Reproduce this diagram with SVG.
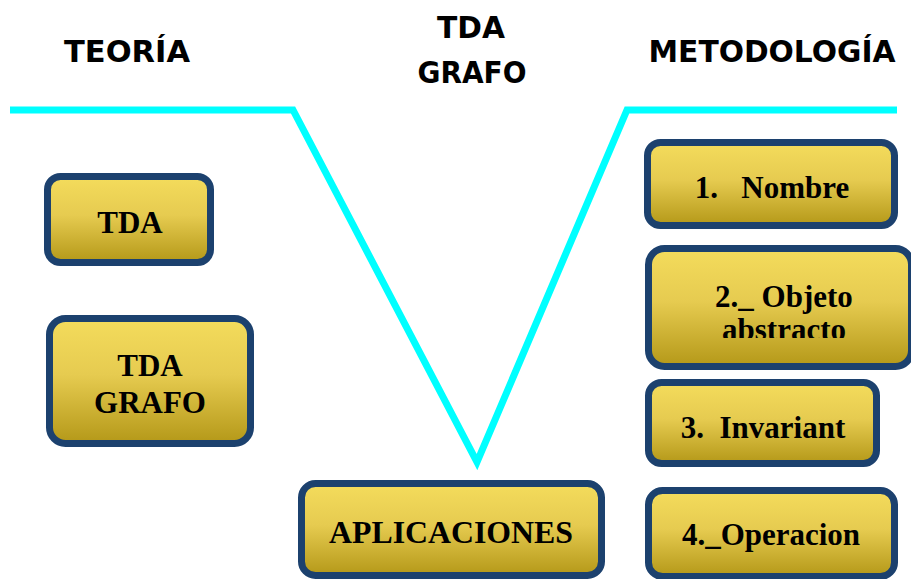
<svg xmlns="http://www.w3.org/2000/svg" width="911" height="579" viewBox="0 0 911 579">
<defs>
<linearGradient id="gold" x1="0" y1="0" x2="0" y2="1">
<stop offset="0" stop-color="#F4DC5C"/>
<stop offset="0.45" stop-color="#E6CB50"/>
<stop offset="1" stop-color="#B49818"/>
</linearGradient>
<clipPath id="clipObj"><rect x="640" y="240" width="280" height="98"/></clipPath>
</defs>
<style>
.box{fill:url(#gold);stroke:#1C416E;stroke-width:7}
.bt{font-family:"Liberation Serif","Times New Roman",serif;font-weight:bold;font-size:31px;fill:#000;text-anchor:middle;white-space:pre}
.hd{font-family:"DejaVu Sans","Verdana",sans-serif;font-weight:bold;font-size:31px;fill:#000;text-anchor:middle}
.v{fill:none;stroke:#00FFFF;stroke-width:7;stroke-linejoin:miter}
</style>
<rect width="911" height="579" fill="#fff"/>
<g id="headers">
<text class="hd" x="127" y="62" textLength="126" lengthAdjust="spacingAndGlyphs">TEORÍA</text>
<text class="hd" x="471" y="38" textLength="68" lengthAdjust="spacingAndGlyphs">TDA</text>
<text class="hd" x="472" y="83" textLength="109" lengthAdjust="spacingAndGlyphs">GRAFO</text>
<text class="hd" x="772" y="62" textLength="247" lengthAdjust="spacingAndGlyphs">METODOLOGÍA</text>
</g>
<g id="connectors">
<polyline class="v" points="10,110 293,110 477,462 627,110 897,110"/>
</g>
<g id="tda">
<rect class="box" x="47.5" y="176.5" width="163" height="86" rx="13"/>
<text class="bt" x="130" y="233">TDA</text>
</g>
<g id="tda-grafo">
<rect class="box" x="49.5" y="318.5" width="201" height="125" rx="16"/>
<text class="bt" x="150" y="376">TDA</text>
<text class="bt" x="150" y="413">GRAFO</text>
</g>
<g id="aplicaciones">
<rect class="box" x="301.5" y="483.5" width="300" height="92" rx="14"/>
<text class="bt" x="451" y="543" textLength="244" lengthAdjust="spacingAndGlyphs">APLICACIONES</text>
</g>
<g id="nombre">
<rect class="box" x="647.5" y="142.5" width="247" height="83" rx="13"/>
<text class="bt" x="772" y="198">1.   Nombre</text>
</g>
<g id="objeto">
<rect class="box" x="648.5" y="248.5" width="263" height="118" rx="16"/>
<text class="bt" x="784" y="307">2._ Objeto</text>
<text class="bt" x="784" y="340" clip-path="url(#clipObj)">abstracto</text>
</g>
<g id="invariant">
<rect class="box" x="648.5" y="382.5" width="228" height="81" rx="13"/>
<text class="bt" x="763" y="438">3.  Invariant</text>
</g>
<g id="operacion">
<rect class="box" x="648.5" y="490.5" width="246" height="86" rx="14"/>
<text class="bt" x="771" y="545">4._Operacion</text>
</g>
</svg>
